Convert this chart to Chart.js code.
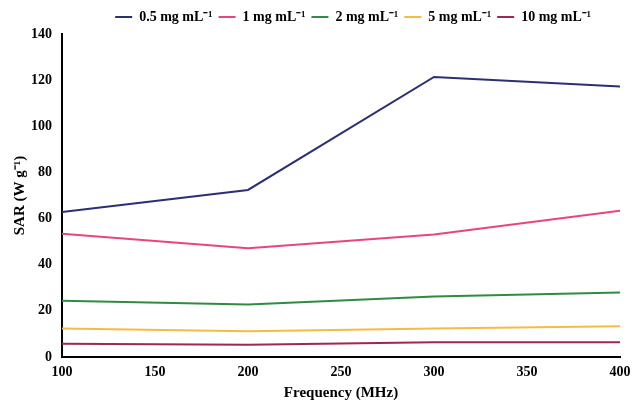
<!DOCTYPE html>
<html>
<head>
<meta charset="utf-8">
<script src="https://cdn.jsdelivr.net/npm/chart.js@4"></script>
<style>
  html, body { margin: 0; padding: 0; background: #fff; }
  #wrap { width: 633px; height: 400px; }
</style>
</head>
<body>
<div id="wrap"><canvas id="sarChart"></canvas></div>
<script>
// DATA
let frequencies = [100, 200, 300, 400];
let seriesLabels = ['0.5 mg mL\u207B\u00B9', '1 mg mL\u207B\u00B9', '2 mg mL\u207B\u00B9', '5 mg mL\u207B\u00B9', '10 mg mL\u207B\u00B9'];
let sar_05 = [62.8, 72.4, 121.4, 117.2];
let sar_1 = [53.4, 47.1, 53.1, 63.4];
let sar_2 = [24.4, 22.8, 26.2, 28.0];
let sar_5 = [12.4, 11.2, 12.4, 13.3];
let sar_10 = [5.7, 5.3, 6.4, 6.4];
let xTicks = [100, 150, 200, 250, 300, 350, 400];
let yTicks = [0, 20, 40, 60, 80, 100, 120, 140];

let lineColors = ['#2b2f74', '#e8457c', '#2f8c40', '#f6bb44', '#a0284f'];
let allSeries = [sar_05, sar_1, sar_2, sar_5, sar_10];

let datasets = allSeries.map(function (vals, i) {
    return {
        label: seriesLabels[i],
        data: vals.map(function (v, j) { return { x: frequencies[j], y: v }; }),
        borderColor: lineColors[i],
        backgroundColor: lineColors[i],
        borderWidth: 2,
        pointRadius: 0,
        tension: 0
    };
});

let serif = "'Liberation Serif', 'Times New Roman', serif";

// keep the legend row clear of the right edge
let legendInset = {
    id: 'legendInset',
    afterLayout: function (chart) {
        chart.legend.right = chart.width - 36;
    }
};

let ctx = document.getElementById('sarChart').getContext('2d');
let chart = new Chart(ctx, {
    type: 'line',
    data: { datasets: datasets },
    plugins: [legendInset],
    options: {
        responsive: true,
        maintainAspectRatio: false,
        animation: false,
        layout: { padding: { left: 0, right: 13, top: 4, bottom: 0 } },
        plugins: {
            legend: {
                position: 'top',
                align: 'end',
                labels: {
                    usePointStyle: true,
                    pointStyle: 'line',
                    pointStyleWidth: 17,
                    boxWidth: 17,
                    boxHeight: 8,
                    padding: 6,
                    color: '#000',
                    font: { family: serif, size: 14, weight: 'bold', lineHeight: 0.72 }
                }
            },
            tooltip: { enabled: false }
        },
        scales: {
            x: {
                type: 'linear',
                min: 100,
                max: 400,
                afterBuildTicks: function (axis) {
                    axis.ticks = xTicks.map(function (v) { return { value: v }; });
                },
                afterFit: function (axis) {
                    axis.height = 43;
                    axis.paddingRight = 0;
                },
                grid: { display: false, drawTicks: false },
                border: { color: '#000', width: 2 },
                ticks: {
                    color: '#000',
                    padding: 8,
                    font: { family: serif, size: 14, weight: 'bold', lineHeight: 1.1 }
                },
                title: {
                    display: true,
                    text: 'Frequency (MHz)',
                    color: '#000',
                    padding: { top: 0, bottom: -2 },
                    font: { family: serif, size: 15, weight: 'bold', lineHeight: 1.2 }
                }
            },
            y: {
                min: 0,
                max: 140,
                afterBuildTicks: function (axis) {
                    axis.ticks = yTicks.map(function (v) { return { value: v }; });
                },
                afterFit: function (axis) { axis.width = 62; },
                grid: { display: false, drawTicks: false },
                border: { color: '#000', width: 2 },
                ticks: {
                    color: '#000',
                    padding: 10,
                    font: { family: serif, size: 14, weight: 'bold' }
                },
                title: {
                    display: true,
                    text: 'SAR (W g\u207B\u00B9)',
                    color: '#000',
                    padding: { top: 11, bottom: 0 },
                    font: { family: serif, size: 15, weight: 'bold' }
                }
            }
        }
    }
});
</script>
</body>
</html>
